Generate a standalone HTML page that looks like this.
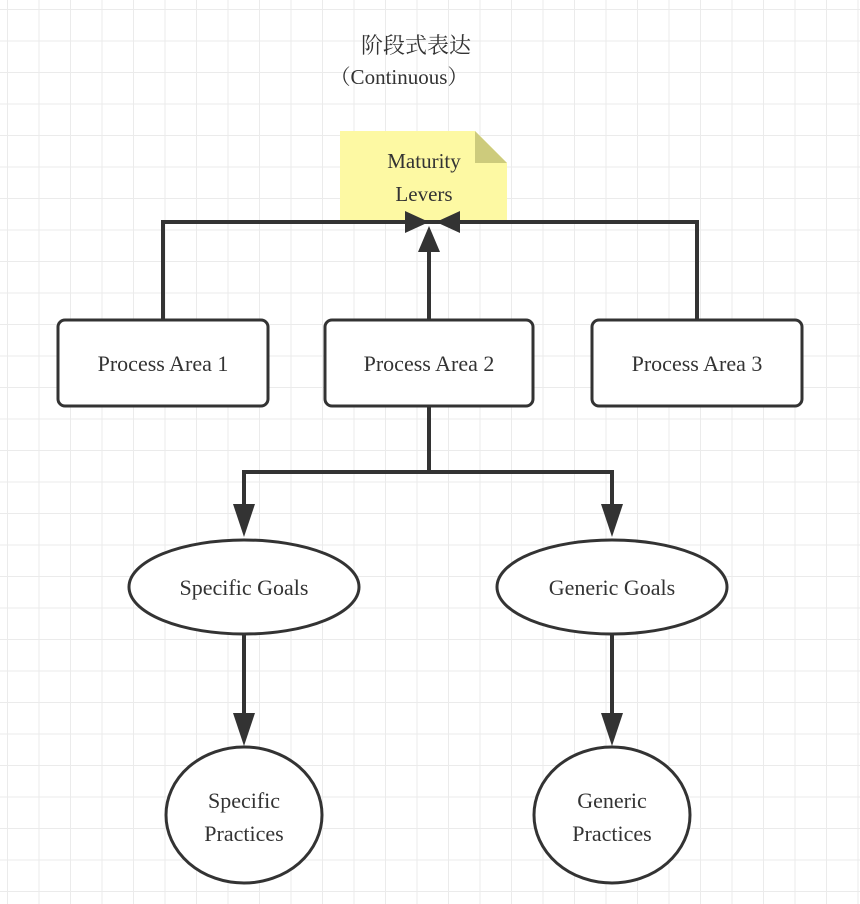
<!DOCTYPE html>
<html><head><meta charset="utf-8"><style>
html,body{margin:0;padding:0;background:#fff}
svg{display:block}
text{font-family:"Liberation Serif","Noto Serif CJK SC",serif;fill:#333}
</style></head><body>
<svg width="860" height="904" viewBox="0 0 860 904" xmlns="http://www.w3.org/2000/svg">
<defs>
<pattern id="g" x="7" y="9" width="31.5" height="31.5" patternUnits="userSpaceOnUse">
<path d="M0 0V31.5M0 0H31.5" stroke="#ebebeb" stroke-width="2" fill="none"/>
</pattern>
</defs>
<rect width="860" height="904" fill="url(#g)"/>
<text x="416" y="53" font-size="22" text-anchor="middle" font-family="Noto Serif CJK SC,serif">阶段式表达</text>
<text x="399" y="84" font-size="21" text-anchor="middle">（Continuous）</text>
<!-- note -->
<path d="M340 131H475L507 163V220H340Z" fill="#fdf9a3"/>
<path d="M475 131L507 163H475Z" fill="#cdcb7c"/>
<text x="424" y="168" font-size="21" text-anchor="middle">Maturity</text>
<text x="424" y="201" font-size="21" text-anchor="middle">Levers</text>
<g stroke="#333" stroke-width="4" fill="none">
<path d="M163 320V222H697V320"/>
<path d="M429 320V240"/>
<path d="M429 406V472H244V505M429 472H612V505"/>
<path d="M244 634V715M612 634V715"/>
</g>
<g fill="#333">
<path d="M405 211L429 222L405 233Z"/>
<path d="M460 211L436 222L460 233Z"/>
<path d="M418 252L429 226L440 252Z"/>
<path d="M233 504H255L244 537Z"/>
<path d="M601 504H623L612 537Z"/>
<path d="M233 713H255L244 746Z"/>
<path d="M601 713H623L612 746Z"/>
</g>
<g stroke="#333" stroke-width="3" fill="#fff">
<rect x="58" y="320" width="210" height="86" rx="7"/>
<rect x="325" y="320" width="208" height="86" rx="7"/>
<rect x="592" y="320" width="210" height="86" rx="7"/>
<ellipse cx="244" cy="587" rx="115" ry="47"/>
<ellipse cx="612" cy="587" rx="115" ry="47"/>
<ellipse cx="244" cy="815" rx="78" ry="68"/>
<ellipse cx="612" cy="815" rx="78" ry="68"/>
</g>
<g font-size="22" text-anchor="middle">
<text x="163" y="371">Process Area 1</text>
<text x="429" y="371">Process Area 2</text>
<text x="697" y="371">Process Area 3</text>
<text x="244" y="595">Specific Goals</text>
<text x="612" y="595">Generic Goals</text>
<text x="244" y="808">Specific</text>
<text x="244" y="841">Practices</text>
<text x="612" y="808">Generic</text>
<text x="612" y="841">Practices</text>
</g>
</svg>
</body></html>
